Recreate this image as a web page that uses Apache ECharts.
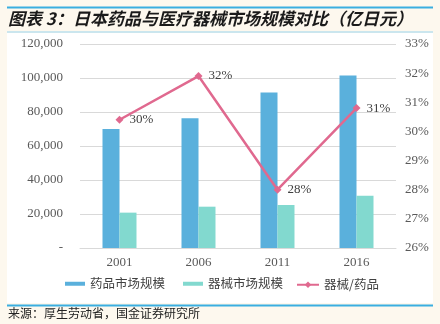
<!DOCTYPE html>
<html>
<head>
<meta charset="utf-8">
<script src="https://cdn.jsdelivr.net/npm/echarts@6/dist/echarts.min.js"></script>
<style>
html,body{margin:0;padding:0;background:#fdf8ee;}
#c{width:440px;height:324px;}
</style>
</head>
<body>
<div id="c"></div>
<script>
const categories = ['2001', '2006', '2011', '2016'];
const drugMarket = [70000, 76300, 91400, 101400];
const deviceMarket = [20800, 24300, 25300, 30800];
const ratio = [30.4, 31.9, 28.0, 30.8];
const leftTicks = [0, 20000, 40000, 60000, 80000, 100000, 120000];
const rightTicks = [26, 27, 28, 29, 30, 31, 32, 33];

const chart = echarts.init(document.getElementById('c'), null, {renderer: 'canvas'});
const serif = '"Liberation Serif", "DejaVu Serif", serif';
const cjk = '"Noto Sans CJK SC", sans-serif';

chart.setOption({
  backgroundColor: '#fdf8ee',
  animation: false,
  graphic: [
    {type: 'rect', z: -10, shape: {x: 7, y: 33, width: 426, height: 270}, style: {fill: '#ffffff'}, silent: true},
    {type: 'rect', shape: {x: 7, y: 6.5, width: 426, height: 2}, style: {fill: '#3aaee0'}, silent: true},
    {type: 'rect', shape: {x: 7, y: 31.5, width: 426, height: 1}, style: {fill: '#9ad4ee'}, silent: true},
    {type: 'rect', shape: {x: 7, y: 304.5, width: 426, height: 2}, style: {fill: '#3aaee0'}, silent: true},
    {type: 'text', left: 8, top: 10, style: {text: '图表 3：日本药品与医疗器械市场规模对比（亿日元）', font: 'italic bold 17px ' + cjk, fill: '#1a1a1a'}},
    {type: 'text', left: 8, top: 307, style: {text: '来源：厚生劳动省，国金证券研究所', font: '12px ' + cjk, fill: '#222'}}
  ],
  grid: {left: 80, right: 44, top: 44, bottom: 76},
  legend: [
    {
      bottom: 29, left: 60,
      itemWidth: 20, itemHeight: 4, itemGap: 18,
      textStyle: {fontFamily: cjk, fontSize: 12.5, color: '#404040'},
      data: [
        {name: '药品市场规模', icon: 'rect'},
        {name: '器械市场规模', icon: 'rect'}
      ]
    },
    {
      bottom: 28, left: 291,
      itemWidth: 22, itemHeight: 8,
      textStyle: {fontFamily: cjk, fontSize: 12.5, color: '#404040'},
      data: [{name: '器械/药品'}]
    }
  ],
  xAxis: {
    type: 'category', data: categories,
    axisLine: {lineStyle: {color: '#d9d9d9'}},
    axisTick: {show: false},
    axisLabel: {fontFamily: serif, fontSize: 13, color: '#595959', margin: 8}
  },
  yAxis: [
    {
      type: 'value', min: 0, max: 120000, interval: 20000,
      axisLine: {show: false}, axisTick: {show: false},
      splitLine: {lineStyle: {color: '#d9d9d9'}},
      axisLabel: {fontFamily: serif, fontSize: 13, color: '#595959', margin: 17,
        formatter: v => v === 0 ? '-' : v.toLocaleString('en-US')}
    },
    {
      type: 'value', min: 26, max: 33, interval: 1,
      axisLine: {show: false}, axisTick: {show: false},
      splitLine: {show: false},
      axisLabel: {fontFamily: serif, fontSize: 13, color: '#595959', margin: 9,
        formatter: v => v + '%'}
    }
  ],
  series: [
    {
      name: '药品市场规模', type: 'bar', data: drugMarket,
      barWidth: 17, barGap: '0%',
      itemStyle: {color: '#5ab0dc'}
    },
    {
      name: '器械市场规模', type: 'bar', data: deviceMarket,
      barWidth: 17,
      itemStyle: {color: '#82d9cf'}
    },
    {
      name: '器械/药品', type: 'line', yAxisIndex: 1, data: ratio,
      symbol: 'diamond', symbolSize: 8,
      lineStyle: {color: '#e0698f', width: 2.5},
      itemStyle: {color: '#e0698f'},
      label: {show: true, position: 'right', distance: 6, fontFamily: serif, fontSize: 13, color: '#404040',
        formatter: p => Math.round(p.value) + '%'}
    }
  ]
});
</script>
</body>
</html>
